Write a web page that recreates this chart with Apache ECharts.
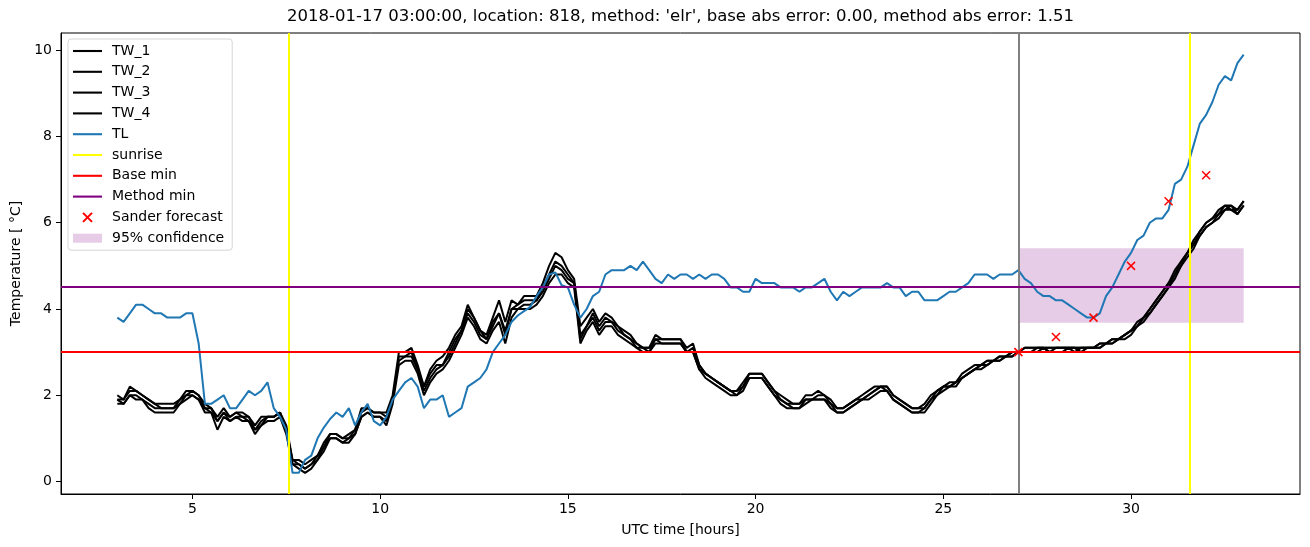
<!DOCTYPE html>
<html>
<head>
<meta charset="utf-8">
<script src="https://cdn.jsdelivr.net/npm/echarts@6/dist/echarts.min.js"></script>
<style>html,body{margin:0;padding:0;background:#fff}#chart{width:1310px;height:547px}</style>
</head>
<body>
<div id="chart"></div>
<script>
// ---- data (10-minute samples from 03:00 to 33:00 UTC hours) ----
const startHour = 3;
const stepHour = 1 / 6;

const TL = [
  3.8,3.7,3.9,4.1,4.1,4.0,
  3.9,3.9,3.8,3.8,3.8,3.9,
  3.9,3.2,1.8,1.8,1.9,2.0,
  1.7,1.7,1.9,2.1,2.0,2.1,
  2.3,1.7,1.5,1.2,0.2,0.2,
  0.5,0.6,1.0,1.25,1.45,1.6,
  1.5,1.7,1.3,1.6,1.8,1.4,
  1.3,1.5,1.9,2.1,2.3,2.4,
  2.2,1.7,1.9,1.9,2.0,1.5,
  1.6,1.7,2.2,2.3,2.4,2.6,
  3.0,3.2,3.4,3.7,3.85,3.95,
  4.05,4.3,4.5,4.8,4.85,4.55,
  4.5,4.1,3.8,4.0,4.3,4.4,
  4.8,4.9,4.9,4.9,5.0,4.9,
  5.1,4.9,4.7,4.6,4.8,4.7,
  4.8,4.8,4.7,4.8,4.7,4.8,
  4.8,4.7,4.5,4.5,4.4,4.4,
  4.7,4.6,4.6,4.6,4.5,4.5,
  4.5,4.4,4.5,4.5,4.6,4.7,
  4.4,4.2,4.4,4.3,4.4,4.5,
  4.5,4.5,4.5,4.6,4.5,4.5,
  4.3,4.4,4.4,4.2,4.2,4.2,
  4.3,4.4,4.4,4.5,4.6,4.8,
  4.8,4.8,4.7,4.8,4.8,4.8,
  4.9,4.7,4.6,4.4,4.3,4.3,
  4.2,4.2,4.1,4.0,3.9,3.8,
  3.8,3.9,4.3,4.5,4.8,5.1,
  5.3,5.6,5.7,6.0,6.1,6.1,
  6.3,6.9,7.0,7.3,7.8,8.3,
  8.5,8.8,9.2,9.4,9.3,9.7,
  9.9
];

const TW_1 = [
  2.0,1.9,2.2,2.1,2.0,1.9,
  1.8,1.8,1.8,1.8,1.9,2.1,
  2.1,2.0,1.8,1.7,1.5,1.7,
  1.5,1.6,1.6,1.5,1.3,1.5,
  1.5,1.5,1.6,1.3,0.5,0.5,
  0.4,0.5,0.6,0.9,1.1,1.1,
  1.0,1.1,1.2,1.7,1.7,1.6,
  1.6,1.6,2.0,3.0,3.0,3.1,
  2.7,2.2,2.6,2.8,2.9,3.1,
  3.4,3.6,4.1,3.8,3.5,3.4,
  3.8,4.2,3.7,4.2,4.1,4.3,
  4.3,4.3,4.6,5.0,5.3,5.2,
  4.9,4.7,3.6,3.8,4.0,3.7,
  3.9,3.8,3.6,3.5,3.4,3.2,
  3.1,3.1,3.4,3.3,3.3,3.3,
  3.3,3.1,3.2,2.7,2.5,2.4,
  2.3,2.2,2.1,2.1,2.3,2.5,
  2.5,2.5,2.3,2.1,2.0,1.9,
  1.8,1.8,2.0,2.0,2.1,2.0,
  1.9,1.7,1.7,1.8,1.9,2.0,
  2.1,2.2,2.2,2.2,2.0,1.9,
  1.8,1.7,1.7,1.8,2.0,2.1,
  2.2,2.3,2.3,2.5,2.6,2.7,
  2.7,2.8,2.8,2.9,2.9,3.0,
  3.0,3.1,3.1,3.1,3.1,3.1,
  3.1,3.1,3.1,3.1,3.1,3.1,
  3.1,3.2,3.2,3.3,3.3,3.4,
  3.5,3.7,3.8,4.0,4.2,4.4,
  4.6,4.9,5.1,5.3,5.6,5.8,
  6.0,6.1,6.3,6.4,6.3,6.3,
  6.5
];

const TW_2 = [
  1.9,1.9,2.1,2.1,2.0,1.9,
  1.8,1.7,1.7,1.7,1.9,2.0,
  2.1,2.0,1.7,1.7,1.4,1.6,
  1.5,1.6,1.5,1.5,1.2,1.4,
  1.5,1.5,1.6,1.2,0.5,0.4,
  0.3,0.4,0.6,0.8,1.1,1.1,
  1.0,1.0,1.2,1.6,1.7,1.6,
  1.6,1.5,1.9,2.9,2.9,3.0,
  2.6,2.2,2.5,2.7,2.7,3.0,
  3.3,3.5,4.0,3.8,3.5,3.3,
  3.7,3.9,3.5,4.0,4.1,4.2,
  4.2,4.2,4.5,4.8,5.1,5.0,
  4.8,4.6,3.4,3.6,3.9,3.6,
  3.8,3.7,3.6,3.4,3.3,3.2,
  3.1,3.1,3.3,3.3,3.3,3.3,
  3.3,3.0,3.1,2.7,2.5,2.4,
  2.3,2.2,2.1,2.1,2.2,2.5,
  2.5,2.5,2.3,2.1,1.9,1.8,
  1.8,1.8,1.9,1.9,2.0,2.0,
  1.8,1.7,1.7,1.8,1.9,1.9,
  2.0,2.1,2.2,2.2,2.0,1.9,
  1.8,1.7,1.7,1.7,1.9,2.1,
  2.2,2.2,2.3,2.4,2.5,2.6,
  2.7,2.8,2.8,2.9,2.9,3.0,
  3.0,3.1,3.1,3.1,3.1,3.1,
  3.1,3.1,3.1,3.1,3.1,3.1,
  3.1,3.2,3.2,3.3,3.3,3.4,
  3.5,3.6,3.8,4.0,4.2,4.4,
  4.6,4.8,5.1,5.3,5.5,5.8,
  6.0,6.1,6.2,6.4,6.4,6.3,
  6.5
];

const TW_3 = [
  1.9,1.8,2.0,2.0,1.9,1.8,
  1.7,1.7,1.7,1.7,1.8,2.0,
  2.0,1.9,1.7,1.6,1.4,1.6,
  1.4,1.5,1.5,1.4,1.2,1.3,
  1.5,1.5,1.6,1.2,0.4,0.4,
  0.3,0.4,0.5,0.8,1.0,1.0,
  0.9,1.0,1.1,1.5,1.6,1.5,
  1.5,1.4,1.9,2.8,2.9,2.9,
  2.6,2.1,2.4,2.6,2.7,2.9,
  3.2,3.5,3.9,3.7,3.4,3.3,
  3.6,3.9,3.4,4.0,4.0,4.1,
  4.1,4.2,4.4,4.7,5.0,4.9,
  4.7,4.6,3.3,3.6,3.8,3.5,
  3.7,3.7,3.5,3.4,3.3,3.1,
  3.1,3.0,3.3,3.2,3.2,3.2,
  3.2,3.0,3.0,2.6,2.5,2.4,
  2.3,2.2,2.1,2.0,2.2,2.4,
  2.4,2.4,2.2,2.0,1.9,1.8,
  1.7,1.7,1.9,1.9,1.9,1.9,
  1.8,1.6,1.6,1.7,1.8,1.9,
  2.0,2.1,2.2,2.1,1.9,1.8,
  1.7,1.6,1.6,1.7,1.9,2.0,
  2.2,2.2,2.3,2.4,2.5,2.6,
  2.7,2.7,2.8,2.8,2.9,2.9,
  3.0,3.0,3.0,3.1,3.1,3.0,
  3.1,3.1,3.1,3.1,3.0,3.1,
  3.1,3.1,3.2,3.2,3.3,3.4,
  3.5,3.6,3.8,3.9,4.1,4.3,
  4.5,4.8,5.0,5.3,5.5,5.7,
  5.9,6.0,6.2,6.3,6.4,6.2,
  6.4
];

const TW_4 = [
  1.8,1.8,2.0,1.9,1.9,1.7,
  1.6,1.6,1.6,1.6,1.8,1.9,
  2.0,1.9,1.6,1.6,1.2,1.5,
  1.4,1.5,1.4,1.4,1.1,1.3,
  1.4,1.4,1.5,1.1,0.4,0.3,
  0.2,0.3,0.5,0.7,1.0,1.0,
  0.9,0.9,1.1,1.5,1.6,1.5,
  1.5,1.3,1.8,2.7,2.8,2.8,
  2.5,2.0,2.3,2.5,2.6,2.8,
  3.1,3.4,3.8,3.6,3.3,3.2,
  3.5,3.7,3.2,3.8,4.0,4.0,
  4.0,4.1,4.3,4.6,4.8,4.8,
  4.6,4.5,3.2,3.5,3.7,3.4,
  3.6,3.6,3.4,3.3,3.2,3.1,
  3.0,3.0,3.2,3.2,3.2,3.2,
  3.2,3.0,3.0,2.6,2.4,2.3,
  2.2,2.1,2.0,2.0,2.1,2.4,
  2.4,2.4,2.2,2.0,1.8,1.7,
  1.7,1.7,1.8,1.9,1.9,1.9,
  1.7,1.6,1.6,1.7,1.8,1.9,
  1.9,2.0,2.1,2.1,1.9,1.8,
  1.7,1.6,1.6,1.6,1.8,2.0,
  2.1,2.2,2.2,2.4,2.5,2.6,
  2.6,2.7,2.8,2.8,2.9,2.9,
  3.0,3.0,3.0,3.0,3.1,3.0,
  3.0,3.0,3.1,3.0,3.1,3.1,
  3.1,3.1,3.2,3.2,3.3,3.3,
  3.4,3.6,3.7,3.9,4.1,4.3,
  4.5,4.7,5.0,5.2,5.4,5.7,
  5.9,6.0,6.1,6.3,6.3,6.2,
  6.4
];

const sanderHours = [27, 28, 29, 30, 31, 32];
const sanderValues = [3.0, 3.35, 3.8, 5.0, 6.5, 7.1];

const sunriseHours = [7.56, 31.57];
const forecastStartHour = 27.0;
const baseMin = 3.0;
const methodMin = 4.51;
const confidence = { from: 27.0, to: 33.0, low: 3.68, high: 5.41 };

const xTicks = [5, 10, 15, 20, 25, 30];
const yTicks = [0, 2, 4, 6, 8, 10];

const titleText = "2018-01-17 03:00:00, location: 818, method: 'elr', base abs error: 0.00, method abs error: 1.51";

// ---- build ----
const FONT = 'DejaVu Sans';
const pairs = arr => arr.map((v, i) => [startHour + i * stepHour, v]);

const chart = echarts.init(document.getElementById('chart'), null, { renderer: 'canvas' });

const twSeries = (name, arr) => ({
  name, type: 'line', data: pairs(arr), symbol: 'none', showSymbol: false,
  color: '#000000',
  lineStyle: { color: '#000000', width: 2 }, itemStyle: { color: '#000000' },
  z: 3, animation: false
});

const emptyLine = (name, color, extra) => Object.assign({
  name, type: 'line', data: [], symbol: 'none', color,
  lineStyle: { color, width: 2 }, itemStyle: { color }, animation: false
}, extra);

// thin bar used as legend icon for line entries (aspect kept inside the icon box)
const LINE_ICON = 'path://M0,0L29,0L29,2.1L0,2.1Z';
const lineItem = name => ({ name, icon: LINE_ICON });

const option = {
  animation: false,
  backgroundColor: '#ffffff',
  textStyle: { fontFamily: FONT },
  grid: { left: 61, right: 10, top: 33, bottom: 53, show: true, borderColor: '#000000', borderWidth: 1, backgroundColor: 'transparent' },
  graphic: [{
    type: 'text', x: 680.5, y: 17,
    style: { text: titleText, font: '16.5px "DejaVu Sans"', fill: '#000000', textAlign: 'center', textVerticalAlign: 'middle' }
  }],
  legend: {
    orient: 'vertical', left: 68, top: 39,
    padding: [5, 8, 5, 5],
    itemWidth: 29, itemHeight: 9, itemGap: 6.8,
    symbolKeepAspect: true,
    backgroundColor: '#ffffff', borderColor: 'rgba(204,204,204,0.8)', borderWidth: 1, borderRadius: 3,
    textStyle: { fontFamily: FONT, fontSize: 14, color: '#000000', lineHeight: 14, padding: [0, 0, 0, 5] },
    data: [
      lineItem('TW_1'), lineItem('TW_2'), lineItem('TW_3'), lineItem('TW_4'),
      lineItem('TL'), lineItem('sunrise'), lineItem('Base min'), lineItem('Method min'),
      { name: 'Sander forecast' }, { name: '95% confidence', icon: 'rect' }
    ]
  },
  xAxis: {
    type: 'value', min: 1.5, max: 34.5,
    name: 'UTC time [hours]', nameLocation: 'middle', nameGap: 29,
    nameTextStyle: { fontFamily: FONT, fontSize: 14, color: '#000000' },
    axisLine: { show: true, onZero: false, lineStyle: { color: '#000000', width: 1 } },
    axisTick: { show: true, length: 5, lineStyle: { color: '#000000' }, customValues: xTicks },
    axisLabel: { fontFamily: FONT, fontSize: 14, color: '#000000', margin: 8, customValues: xTicks },
    splitLine: { show: false }
  },
  yAxis: {
    type: 'value', min: -0.29, max: 10.4,
    name: 'Temperature [ °C]', nameLocation: 'middle', nameGap: 34, nameRotate: 90,
    nameTextStyle: { fontFamily: FONT, fontSize: 14, color: '#000000' },
    axisLine: { show: true, onZero: false, lineStyle: { color: '#000000', width: 1 } },
    axisTick: { show: true, length: 5, lineStyle: { color: '#000000' }, customValues: yTicks },
    axisLabel: { fontFamily: FONT, fontSize: 14, color: '#000000', margin: 9, customValues: yTicks },
    splitLine: { show: false }
  },
  series: [
    emptyLine('95% confidence', 'rgba(128,0,128,0.2)', {
      z: 1,
      markArea: {
        silent: true, itemStyle: { color: 'rgba(128,0,128,0.2)' },
        data: [[{ xAxis: confidence.from, yAxis: confidence.low }, { xAxis: confidence.to, yAxis: confidence.high }]]
      }
    }),
    twSeries('TW_1', TW_1),
    twSeries('TW_2', TW_2),
    twSeries('TW_3', TW_3),
    twSeries('TW_4', TW_4),
    {
      name: 'TL', type: 'line', data: pairs(TL), symbol: 'none', showSymbol: false,
      color: '#1f77b4', lineStyle: { color: '#1f77b4', width: 2 }, itemStyle: { color: '#1f77b4' },
      z: 4, animation: false,
      markLine: {
        silent: true, symbol: ['none', 'none'], label: { show: false },
        lineStyle: { color: '#808080', width: 2, type: 'solid' },
        data: [{ xAxis: forecastStartHour }]
      }
    },
    emptyLine('sunrise', '#ffff00', {
      z: 5,
      markLine: {
        silent: true, symbol: ['none', 'none'], label: { show: false },
        lineStyle: { color: '#ffff00', width: 2, type: 'solid' },
        data: sunriseHours.map(h => ({ xAxis: h }))
      }
    }),
    emptyLine('Base min', '#ff0000', {
      z: 5,
      markLine: {
        silent: true, symbol: ['none', 'none'], label: { show: false },
        lineStyle: { color: '#ff0000', width: 2, type: 'solid' },
        data: [{ yAxis: baseMin }]
      }
    }),
    emptyLine('Method min', '#800080', {
      z: 5,
      markLine: {
        silent: true, symbol: ['none', 'none'], label: { show: false },
        lineStyle: { color: '#800080', width: 2, type: 'solid' },
        data: [{ yAxis: methodMin }]
      }
    }),
    {
      name: 'Sander forecast', type: 'scatter', z: 6,
      data: sanderHours.map((h, i) => [h, sanderValues[i]]),
      symbol: 'path://M0,0L10,10M10,0L0,10', symbolSize: 8,
      itemStyle: { color: '#ff0000', borderColor: '#ff0000', borderWidth: 1.5, opacity: 1 },
      animation: false
    }
  ]
};

chart.setOption(option);
</script>
</body>
</html>
